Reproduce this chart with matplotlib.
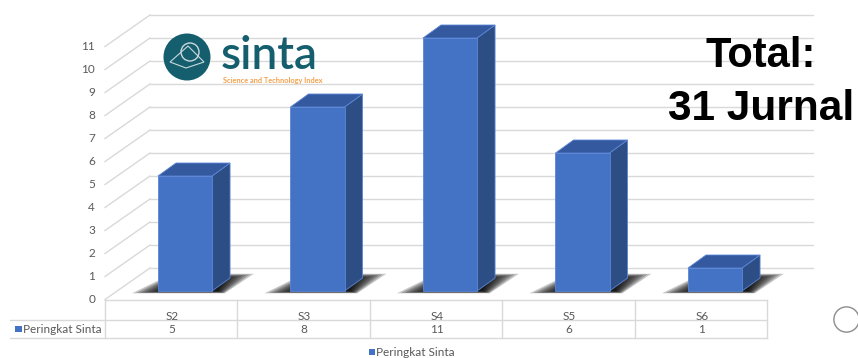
import numpy as np
import matplotlib
matplotlib.use("Agg")
import matplotlib.pyplot as plt
from matplotlib.patches import Polygon, Rectangle, Circle

# ---- data ----
categories = ["S2", "S3", "S4", "S5", "S6"]
values = [5, 8, 11, 6, 1]
series_name = "Peringkat Sinta"
y_ticks = list(range(0, 12))
total_lines = ["Total:", "31 Jurnal"]

# ---- style ----
FRONT = "#4472C4"
SIDE = "#2D4D85"
TOP = "#35599F"
EDGE = "#5B86D6"
GRID = "#D9D9D9"
TXT = "#595959"
FONT = ["Lato", "DejaVu Sans"]

W, H = 858, 358
fig = plt.figure(figsize=(W / 100, H / 100), dpi=100)
ax = fig.add_axes([0, 0, 1, 1])
# axis geometry: category spacing and value scale
cat_px, val_px, x0_px, y0_px = 132.5, 23.0, 185.0, 291.0
ax.set_xlim(-x0_px / cat_px, (W - x0_px) / cat_px)
ax.set_ylim((y0_px - H) / val_px, y0_px / val_px)
ax.axis("off")

n = len(categories)
hw = 0.204                 # half bar width (category units)
ddx, ddy = 0.136, 0.565    # bar depth offset
wall_dx, wall_dy = 0.34, 1.37  # floor depth offset (front -> back)
front_left = -0.604
back_left = front_left + wall_dx
front_y_off = -0.37        # front plane offset vs bar plane

# back wall gridlines & left wall diagonals
for v in y_ticks:
    yb = v + front_y_off + wall_dy
    ax.plot([back_left, back_left + n], [yb, yb], color=GRID, lw=1, zorder=1)
    ax.plot([front_left, back_left], [v + front_y_off, yb], color=GRID, lw=1, zorder=1)
    ax.text(front_left - 0.075, v + front_y_off, str(v), ha="right", va="center",
            fontsize=8.5, color=TXT, family=FONT)

# bars with pseudo-3D faces and shadows
for i, v in enumerate(values):
    # soft shadow built from stacked translucent layers
    for k in range(9):
        s = k * 0.03
        shp = [(i - 0.40 + s, -0.10 + s * 0.4), (i + 0.30 - s * 0.2, -0.10 + s * 0.4),
               (i + 0.52 - s, 0.75 - s * 0.9), (i - 0.10 + s * 0.3, 0.75 - s * 0.9)]
        ax.add_patch(Polygon(shp, closed=True, facecolor="black", edgecolor="none",
                             alpha=0.22, zorder=2))
    ax.bar(i, v, width=2 * hw, color=FRONT, edgecolor=EDGE, linewidth=0.6, zorder=4)
    side = [(i + hw, 0), (i + hw, v), (i + hw + ddx, v + ddy), (i + hw + ddx, ddy)]
    top = [(i - hw, v), (i + hw, v), (i + hw + ddx, v + ddy), (i - hw + ddx, v + ddy)]
    ax.add_patch(Polygon(side, closed=True, facecolor=SIDE, edgecolor=EDGE, lw=0.6, zorder=3))
    ax.add_patch(Polygon(top, closed=True, facecolor=TOP, edgecolor=EDGE, lw=0.6, zorder=3))

# data table
t_top, t_mid, t_bot = -0.391, -1.261, -2.043
left_hdr = -1.321
bounds = np.arange(n + 1) + front_left
ax.plot([bounds[0], bounds[-1]], [t_top, t_top], color=GRID, lw=1, zorder=1)
ax.plot([left_hdr, bounds[-1]], [t_mid, t_mid], color=GRID, lw=1, zorder=1)
ax.plot([left_hdr, bounds[-1]], [t_bot, t_bot], color=GRID, lw=1, zorder=1)
for b in bounds:
    ax.plot([b, b], [t_top, t_bot], color=GRID, lw=1, zorder=1)
for i, (c, v) in enumerate(zip(categories, values)):
    ax.text(i - 0.1, -1.09, c, ha="center", va="center", fontsize=8.5, color=TXT, family=FONT)
    ax.text(i - 0.1, -1.66, str(v), ha="center", va="center", fontsize=8.5, color=TXT, family=FONT)
ax.add_patch(Rectangle((-1.285, -1.80), 0.052, 0.30, facecolor=FRONT, edgecolor="none"))
ax.text(-1.225, -1.66, series_name, ha="left", va="center", fontsize=8.5, color=TXT, family=FONT)

# legend
ax.add_patch(Rectangle((1.385, -2.80), 0.052, 0.30, facecolor=FRONT, edgecolor="none"))
ax.text(1.445, -2.66, series_name, ha="left", va="center", fontsize=8.5, color=TXT, family=FONT)

# circle at lower right
ax.scatter([4.99], [-1.217], s=330, facecolor="white", edgecolor="#8C8C8C", linewidth=1, zorder=5)

# "Total" text
fig.text(761 / W, 1 - 67 / H, total_lines[0], ha="center", va="baseline",
         fontsize=30, fontweight="bold", family="Liberation Sans", color="black")
fig.text(761 / W, 1 - 120 / H, total_lines[1], ha="center", va="baseline",
         fontsize=30.5, fontweight="bold", family="Liberation Sans", color="black")

# sinta logo (emblem + text)
TEAL = "#145E6E"
fig.patches.append(Circle((1.87, (H - 57) / 100), 0.235, transform=fig.dpi_scale_trans,
                          facecolor=TEAL, edgecolor="none"))
fig.patches.append(Circle((1.90, (H - 52) / 100), 0.09, transform=fig.dpi_scale_trans,
                          facecolor="none", edgecolor="#C9D9DC", lw=1.0))
fig.patches.append(Polygon([(1.70, (H - 62) / 100), (1.88, (H - 46) / 100),
                            (2.04, (H - 62) / 100), (1.86, (H - 68) / 100)],
                           closed=True, transform=fig.dpi_scale_trans,
                           facecolor="none", edgecolor="#C9D9DC", lw=0.8))
fig.text(221 / W, 1 - 69 / H, "sinta", ha="left", va="baseline", fontsize=33,
         fontweight="semibold", family=FONT, color=TEAL)
fig.text(223 / W, 1 - 83 / H, "Science and Technology Index", ha="left", va="baseline",
         fontsize=5.3, fontweight="bold", family=FONT, color="#F5A04A")

fig.savefig("out.png", dpi=100)
